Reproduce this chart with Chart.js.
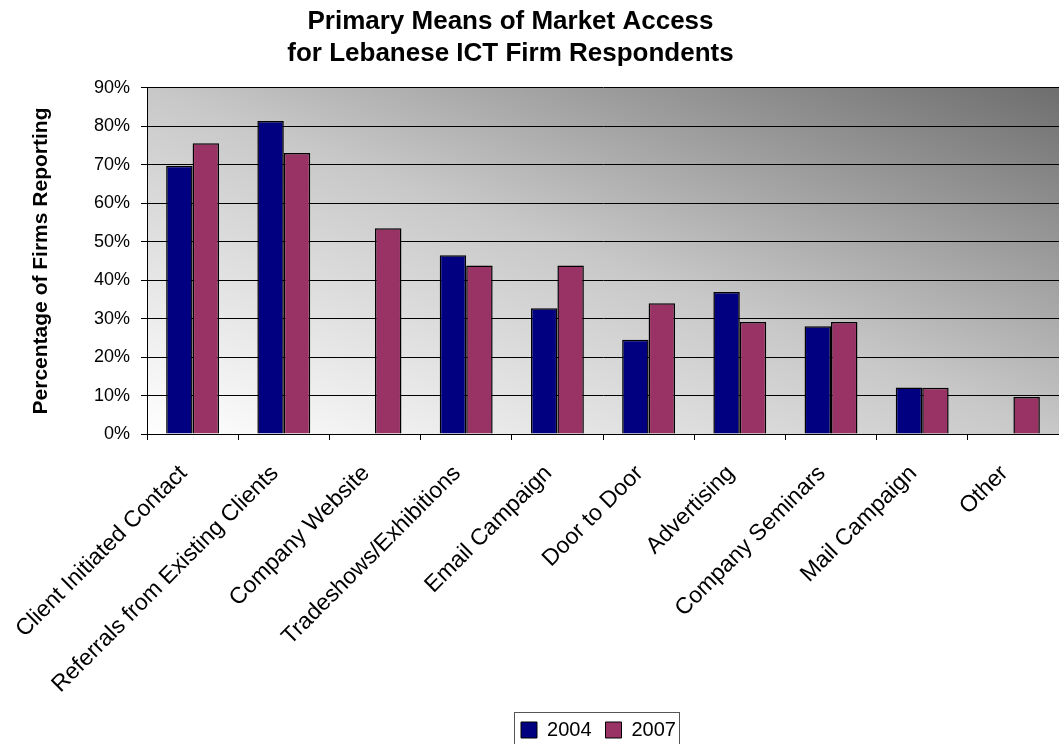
<!DOCTYPE html>
<html>
<head>
<meta charset="utf-8">
<script src="https://cdn.jsdelivr.net/npm/chart.js@4.4.1/dist/chart.umd.min.js"></script>
<style>
  html, body { margin: 0; padding: 0; background: #fff; }
</style>
</head>
<body>
<canvas id="marketChart" width="1059" height="744"></canvas>
<script>
// Data (percent of firms)
const categories = [
    'Client Initiated Contact', 'Referrals from Existing Clients', 'Company Website',
    'Tradeshows/Exhibitions', 'Email Campaign', 'Door to Door', 'Advertising',
    'Company Seminars', 'Mail Campaign', 'Other'
];
const seriesNames = ['2004', '2007'];
const values2004 = [69.8, 81.4, null, 46.5, 32.7, 24.5, 36.9, 28.0, 12.1, null];
const values2007 = [75.6, 73.1, 53.5, 43.8, 43.8, 34.0, 29.1, 29.1, 12.0, 9.6];
const yTickLabels = ['0%', '10%', '20%', '30%', '40%', '50%', '60%', '70%', '80%', '90%'];

// Diagonal grey gradient behind the plot, like the old Excel fill
const plotBackground = {
    id: 'plotBackground',
    beforeDraw(chart) {
        const { ctx, chartArea: a } = chart;
        ctx.save();
        ctx.translate(a.left, a.top);
        ctx.scale(a.width, a.height);
        const g = ctx.createLinearGradient(0, 1, 1, 0);
        g.addColorStop(0, '#ffffff');
        g.addColorStop(0.5, '#c8c8c8');
        g.addColorStop(1, '#6e6e6e');
        ctx.fillStyle = g;
        ctx.fillRect(0, 0, 1, 1);
        ctx.restore();
    }
};

// Title and legend sit a little off the middle in the original
const nudgeBoxes = {
    id: 'nudgeBoxes',
    afterLayout(chart) {
        chart.titleBlock.left -= 19;
        chart.titleBlock.right -= 19;
        const lg = chart.legend;
        lg.left += 69; lg.right += 69;
        lg.top += 6; lg.bottom += 6;
    },
    afterDraw(chart) {
        const lg = chart.legend;
        const pad = lg.options.labels.padding;
        const lw = lg.lineWidths[0];
        const start = (lg.left + pad + lg.right - lw) / 2;
        const end = start + lw - pad;
        const ctx = chart.ctx;
        ctx.save();
        ctx.strokeStyle = '#555';
        ctx.lineWidth = 1;
        ctx.strokeRect(Math.round(start - 7) + 0.5, Math.round(lg.top + pad - 8) + 0.5, Math.round(end - start + 10), 60);
        ctx.restore();
    }
};

const ctx = document.getElementById('marketChart').getContext('2d');
const marketChart = new Chart(ctx, {
    type: 'bar',
    data: {
        labels: categories,
        datasets: [
            {
                label: seriesNames[0],
                data: values2004,
                backgroundColor: '#000080',
                borderColor: '#000000',
                borderWidth: 1.5
            },
            {
                label: seriesNames[1],
                data: values2007,
                backgroundColor: '#993366',
                borderColor: '#000000',
                borderWidth: 1.5
            }
        ]
    },
    options: {
        responsive: false,
        animation: false,
        categoryPercentage: 0.58,
        barPercentage: 1.0,
        layout: { padding: 0 },
        plugins: {
            title: {
                display: true,
                text: ['Primary Means of Market Access', 'for Lebanese ICT Firm Respondents'],
                color: '#000',
                font: { family: 'Arial, "Liberation Sans", sans-serif', size: 26, weight: 'bold', lineHeight: 1.23 },
                padding: { top: 6, bottom: 18 }
            },
            legend: {
                position: 'bottom',
                labels: {
                    color: '#000',
                    boxWidth: 16,
                    boxHeight: 16,
                    padding: 14,
                    font: { family: 'Arial, "Liberation Sans", sans-serif', size: 20 },
                    generateLabels(chart) {
                        return chart.data.datasets.map((ds, i) => ({
                            text: ds.label,
                            fillStyle: ds.backgroundColor,
                            strokeStyle: '#000',
                            lineWidth: 1,
                            datasetIndex: i
                        }));
                    }
                }
            },
            tooltip: { enabled: false }
        },
        scales: {
            x: {
                afterFit(scale) { scale.height = 266; },
                grid: {
                    drawOnChartArea: false,
                    drawTicks: true,
                    tickLength: 6,
                    color: '#000'
                },
                border: { color: '#000' },
                ticks: {
                    autoSkip: false,
                    maxRotation: 45,
                    minRotation: 45,
                    padding: 20,
                    labelOffset: -9,
                    color: '#000',
                    font: { family: 'Arial, "Liberation Sans", sans-serif', size: 23 }
                }
            },
            y: {
                min: 0,
                max: 90,
                afterFit(scale) { scale.width = 147; },
                grid: {
                    color: '#000',
                    tickLength: 6
                },
                border: { color: '#000' },
                ticks: {
                    stepSize: 10,
                    padding: 11,
                    color: '#000',
                    font: { family: 'Arial, "Liberation Sans", sans-serif', size: 18 },
                    callback: (v, i) => yTickLabels[i]
                },
                title: {
                    display: true,
                    text: 'Percentage of Firms Reporting',
                    color: '#000',
                    font: { family: 'Arial, "Liberation Sans", sans-serif', size: 21, weight: 'bold' },
                    padding: { top: 29, bottom: 0 }
                }
            }
        }
    },
    plugins: [plotBackground, nudgeBoxes]
});
</script>
</body>
</html>
